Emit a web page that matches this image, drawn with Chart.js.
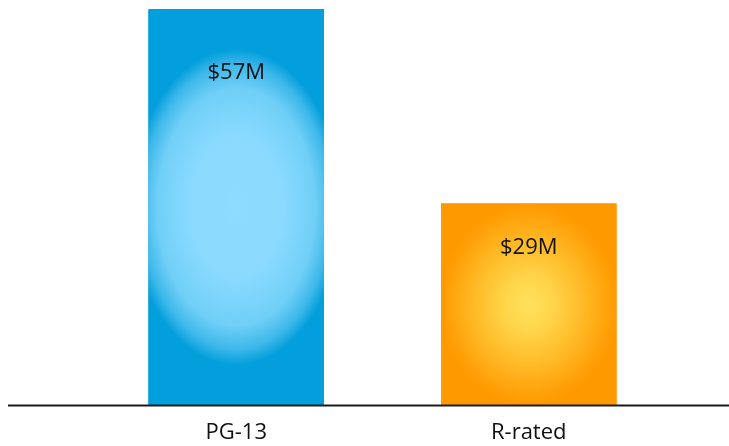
<!DOCTYPE html>
<html>
<head>
<meta charset="utf-8">
<script src="https://cdn.jsdelivr.net/npm/chart.js@4/dist/chart.umd.min.js"></script>
<style>
  html, body { margin: 0; padding: 0; background: #ffffff; }
  #wrap { width: 729px; height: 446px; position: relative; }
</style>
</head>
<body>
<div id="wrap"><canvas id="c" width="729" height="446"></canvas></div>
<script>
const categories = ["PG-13", "R-rated"];
const values = [57, 29];
const valueLabels = ["$57M", "$29M"];
const edgeColors = ["#039fdc", "#ff9900"];
const gradientStops = [
  [[0, "#8edcff"], [0.45, "#89dafe"], [0.75, "#70cff7"], [0.9, "#3db8ea"], [1, "#039fdc"]],
  [[0, "#ffe15c"], [0.25, "#ffd64c"], [0.6, "#ffbb28"], [0.88, "#ffa20a"], [1, "#ff9900"]]
];
const radiusScale = [1.2, 1.02];
const ellipseRatio = [1.5, 1.15];
const labelOffsets = [64, 44];

const gradientBars = {
  id: "gradientBars",
  afterDatasetsDraw(chart) {
    const ctx = chart.ctx;
    const meta = chart.getDatasetMeta(0);
    meta.data.forEach((bar, i) => {
      const p = bar.getProps(["x", "y", "base", "width"], true);
      const left = p.x - p.width / 2;
      const top = Math.min(p.y, p.base);
      const h = Math.abs(p.base - p.y);
      const w = p.width;
      const cx = p.x, cy = top + h / 2;
      const rx = (w / 2) * radiusScale[i];
      const ry = Math.min(h / 2, rx * ellipseRatio[i]);
      ctx.save();
      ctx.beginPath();
      ctx.rect(left, top, w, h);
      ctx.clip();
      ctx.fillStyle = edgeColors[i];
      ctx.fillRect(left, top, w, h);
      ctx.translate(cx, cy);
      ctx.scale(1, ry / rx);
      const g = ctx.createRadialGradient(0, 0, 0, 0, 0, rx);
      gradientStops[i].forEach(s => g.addColorStop(s[0], s[1]));
      ctx.fillStyle = g;
      ctx.beginPath();
      ctx.arc(0, 0, rx * 1.5, 0, Math.PI * 2);
      ctx.fill();
      ctx.restore();

      ctx.save();
      ctx.fillStyle = "#111111";
      ctx.font = "22px 'Open Sans'";
      ctx.textAlign = "center";
      ctx.textBaseline = "middle";
      ctx.fillText(valueLabels[i], cx, top + labelOffsets[i]);
      ctx.restore();
    });
    const y0 = chart.scales.y.getPixelForValue(0);
    ctx.save();
    ctx.strokeStyle = "#1a1a1a";
    ctx.lineWidth = 2;
    ctx.beginPath();
    ctx.moveTo(8, y0 + 0.5);
    ctx.lineTo(chart.width, y0 + 0.5);
    ctx.stroke();
    ctx.restore();
  }
};

new Chart(document.getElementById("c"), {
  type: "bar",
  data: {
    labels: categories,
    datasets: [{
      data: values,
      backgroundColor: edgeColors,
      borderWidth: 0,
      categoryPercentage: 1.0,
      barPercentage: 0.6
    }]
  },
  options: {
    responsive: false,
    animation: false,
    devicePixelRatio: 1,
    layout: { padding: { left: 90, right: 54, top: 9, bottom: 0 } },
    plugins: { legend: { display: false }, tooltip: { enabled: false } },
    scales: {
      x: {
        grid: { display: false },
        border: { display: false },
        ticks: { color: "#111111", font: { family: "'Open Sans'", size: 22 }, padding: 7, maxRotation: 0 },
        afterFit(scale) { scale.height = 41; }
      },
      y: {
        display: false,
        min: 0,
        max: 57
      }
    }
  },
  plugins: [gradientBars]
});
</script>
</body>
</html>
